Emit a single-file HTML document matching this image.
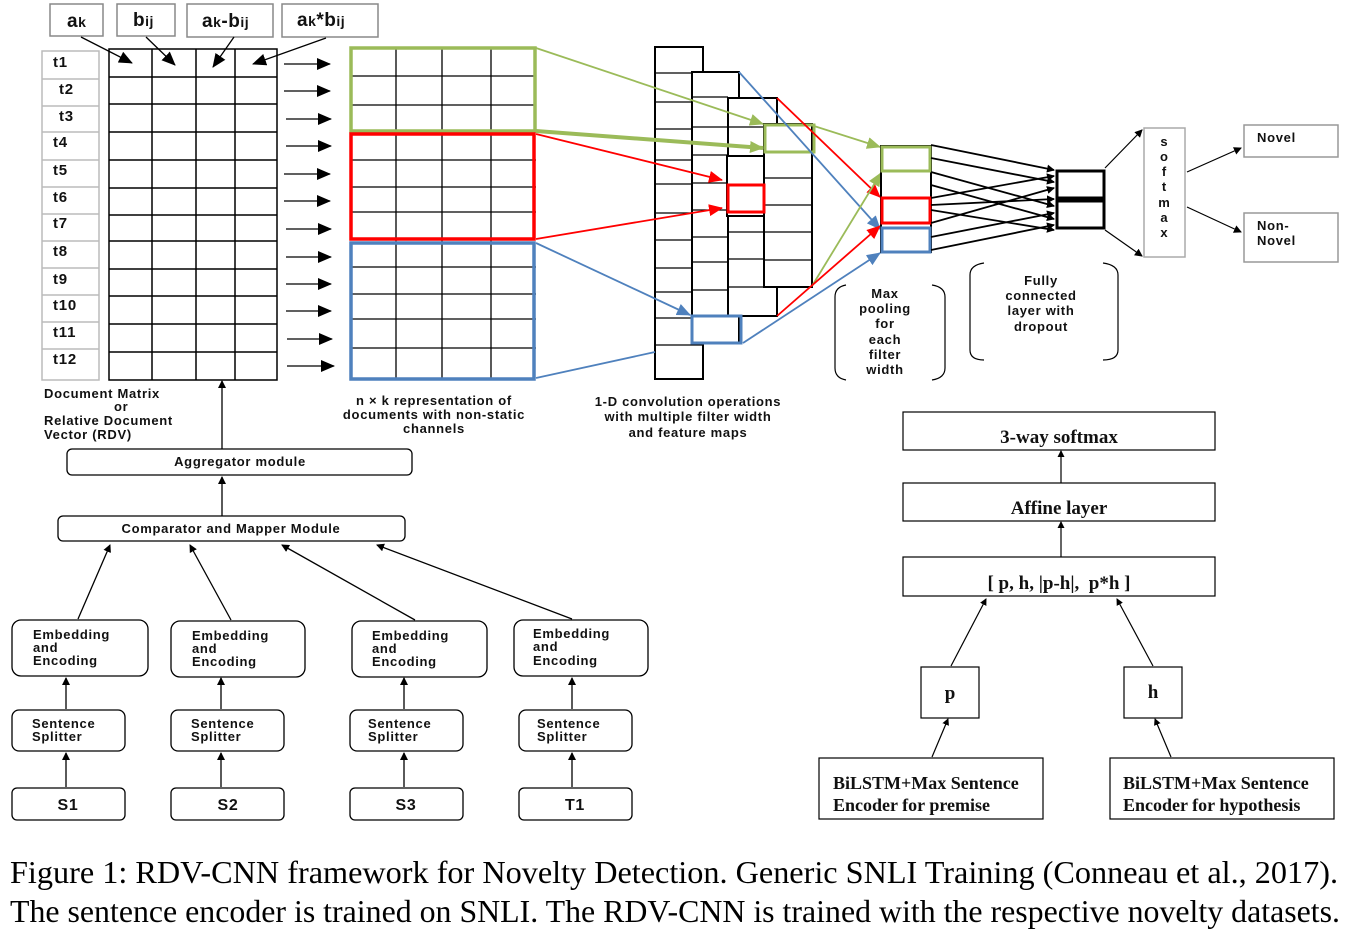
<!DOCTYPE html>
<html><head><meta charset="utf-8"><style>
html,body{margin:0;padding:0;background:#fff;}
svg{display:block;}
.s{font-family:"Liberation Sans",sans-serif;font-weight:bold;font-size:13px;letter-spacing:0.7px;fill:#111;}
.t{font-family:"Liberation Serif",serif;font-weight:bold;font-size:19px;fill:#111;}
</style></head><body>
<svg width="1346" height="939" viewBox="0 0 1346 939" xmlns="http://www.w3.org/2000/svg">
<defs>
<marker id="ab" markerWidth="8" markerHeight="8" refX="7" refY="4" orient="auto" markerUnits="userSpaceOnUse"><path d="M0,0 L8,4 L0,8 z" fill="#000"/></marker>
<marker id="ab2" markerWidth="14" markerHeight="12" refX="13" refY="6" orient="auto" markerUnits="userSpaceOnUse"><path d="M0,0 L14,6 L0,12 z" fill="#000"/></marker>
<marker id="ag" markerWidth="14" markerHeight="12" refX="13" refY="6" orient="auto" markerUnits="userSpaceOnUse"><path d="M0,0 L14,6 L0,12 z" fill="#9bbb59"/></marker>
<marker id="ar" markerWidth="14" markerHeight="12" refX="13" refY="6" orient="auto" markerUnits="userSpaceOnUse"><path d="M0,0 L14,6 L0,12 z" fill="#f00"/></marker>
<marker id="abl" markerWidth="14" markerHeight="12" refX="13" refY="6" orient="auto" markerUnits="userSpaceOnUse"><path d="M0,0 L14,6 L0,12 z" fill="#4f81bd"/></marker>
<marker id="as" markerWidth="7" markerHeight="7" refX="6" refY="3.5" orient="auto" markerUnits="userSpaceOnUse"><path d="M0,0 L7,3.5 L0,7 z" fill="#000"/></marker>
</defs>
<g fill="none" stroke="#888" stroke-width="1.5">
<rect x="50" y="4" width="53" height="32"/><rect x="117" y="4" width="58" height="32"/><rect x="187" y="4" width="86" height="33"/><rect x="282" y="4" width="96" height="33"/>
</g>
<g class="s" style="font-size:19px;letter-spacing:0.5px">
<text x="67" y="27">a<tspan style="font-size:14px">k</tspan></text>
<text x="133" y="26">b<tspan style="font-size:14px">ij</tspan></text>
<text x="202" y="27">a<tspan style="font-size:14px">k</tspan>-b<tspan style="font-size:14px">ij</tspan></text>
<text x="297" y="26">a<tspan style="font-size:14px">k</tspan>*b<tspan style="font-size:14px">ij</tspan></text>
</g>
<g stroke="#000" stroke-width="1.3" fill="none">
<line x1="81" y1="37" x2="132" y2="63" marker-end="url(#ab2)"/>
<line x1="146" y1="37" x2="175" y2="65" marker-end="url(#ab2)"/>
<line x1="234" y1="37" x2="213" y2="67" marker-end="url(#ab2)"/>
<line x1="326" y1="38" x2="253" y2="64" marker-end="url(#ab2)"/>
</g>
<g fill="none" stroke="#bbb" stroke-width="1.5">
<rect x="42" y="51" width="57" height="329"/>
<line x1="42" y1="79" x2="99" y2="79"/><line x1="42" y1="106" x2="99" y2="106"/><line x1="42" y1="132" x2="99" y2="132"/><line x1="42" y1="160" x2="99" y2="160"/><line x1="42" y1="187" x2="99" y2="187"/><line x1="42" y1="214" x2="99" y2="214"/><line x1="42" y1="241" x2="99" y2="241"/><line x1="42" y1="268" x2="99" y2="268"/><line x1="42" y1="295" x2="99" y2="295"/><line x1="42" y1="322" x2="99" y2="322"/><line x1="42" y1="349" x2="99" y2="349"/>
</g>
<g class="s" style="font-size:15px;letter-spacing:0.8px">
<text x="53" y="67">t1</text><text x="59" y="94">t2</text><text x="59" y="121">t3</text><text x="53" y="147">t4</text><text x="53" y="175">t5</text><text x="53" y="202">t6</text><text x="53" y="228">t7</text><text x="53" y="256">t8</text><text x="53" y="284">t9</text><text x="53" y="310">t10</text><text x="53" y="337">t11</text><text x="53" y="364">t12</text>
</g>
<g fill="none" stroke="#000" stroke-width="1.5">
<rect x="109" y="49" width="168" height="331"/>
<line x1="152" y1="49" x2="152" y2="380"/><line x1="196" y1="49" x2="196" y2="380"/><line x1="235" y1="49" x2="235" y2="380"/>
<line x1="109" y1="77" x2="277" y2="77"/><line x1="109" y1="104" x2="277" y2="104"/><line x1="109" y1="132" x2="277" y2="132"/><line x1="109" y1="160" x2="277" y2="160"/><line x1="109" y1="188" x2="277" y2="188"/><line x1="109" y1="215" x2="277" y2="215"/><line x1="109" y1="241" x2="277" y2="241"/><line x1="109" y1="269" x2="277" y2="269"/><line x1="109" y1="296" x2="277" y2="296"/><line x1="109" y1="324" x2="277" y2="324"/><line x1="109" y1="352" x2="277" y2="352"/>
</g>
<g stroke="#000" stroke-width="1.3">
<line x1="284" y1="64" x2="330" y2="64" marker-end="url(#ab2)"/>
<line x1="284" y1="91" x2="330" y2="91" marker-end="url(#ab2)"/>
<line x1="286" y1="119" x2="331" y2="119" marker-end="url(#ab2)"/>
<line x1="286" y1="146" x2="331" y2="146" marker-end="url(#ab2)"/>
<line x1="284" y1="174" x2="330" y2="174" marker-end="url(#ab2)"/>
<line x1="284" y1="201" x2="330" y2="201" marker-end="url(#ab2)"/>
<line x1="286" y1="229" x2="331" y2="229" marker-end="url(#ab2)"/>
<line x1="286" y1="257" x2="331" y2="257" marker-end="url(#ab2)"/>
<line x1="286" y1="284" x2="331" y2="284" marker-end="url(#ab2)"/>
<line x1="286" y1="311" x2="331" y2="311" marker-end="url(#ab2)"/>
<line x1="287" y1="339" x2="332" y2="339" marker-end="url(#ab2)"/>
<line x1="287" y1="366" x2="334" y2="366" marker-end="url(#ab2)"/>
</g>
<g fill="none" stroke="#000" stroke-width="1.3">
<line x1="396" y1="47" x2="396" y2="380"/><line x1="442" y1="47" x2="442" y2="380"/><line x1="491" y1="47" x2="491" y2="380"/>
<line x1="350" y1="76" x2="536" y2="76"/><line x1="350" y1="105" x2="536" y2="105"/>
<line x1="350" y1="160" x2="536" y2="160"/><line x1="350" y1="187" x2="536" y2="187"/><line x1="350" y1="212" x2="536" y2="212"/>
<line x1="350" y1="267" x2="536" y2="267"/><line x1="350" y1="294" x2="536" y2="294"/><line x1="350" y1="319" x2="536" y2="319"/><line x1="350" y1="348" x2="536" y2="348"/>
</g>
<rect x="351" y="48" width="184" height="83" fill="none" stroke="#9bbb59" stroke-width="3.5"/>
<rect x="351" y="134" width="183" height="105" fill="none" stroke="#f00" stroke-width="3.5"/>
<rect x="351" y="243" width="183" height="136" fill="none" stroke="#4f81bd" stroke-width="3.5"/>
<rect x="655" y="47" width="48" height="332" fill="#fff" stroke="#000" stroke-width="2"/>
<g stroke="#000" stroke-width="1.2">
<line x1="655" y1="73" x2="692" y2="73"/><line x1="655" y1="102" x2="692" y2="102"/><line x1="655" y1="129" x2="692" y2="129"/><line x1="655" y1="160" x2="692" y2="160"/><line x1="655" y1="184" x2="692" y2="184"/><line x1="655" y1="213" x2="692" y2="213"/><line x1="655" y1="240" x2="692" y2="240"/><line x1="655" y1="268" x2="692" y2="268"/><line x1="655" y1="292" x2="692" y2="292"/><line x1="655" y1="318" x2="692" y2="318"/><line x1="655" y1="345" x2="703" y2="345"/>
</g>
<rect x="692" y="72" width="47" height="271" fill="#fff" stroke="#000" stroke-width="2"/>
<g stroke="#000" stroke-width="1.2">
<line x1="692" y1="97" x2="728" y2="97"/><line x1="692" y1="127" x2="728" y2="127"/><line x1="692" y1="155" x2="728" y2="155"/><line x1="692" y1="183" x2="728" y2="183"/><line x1="692" y1="210" x2="728" y2="210"/><line x1="692" y1="237" x2="728" y2="237"/><line x1="692" y1="262" x2="728" y2="262"/><line x1="692" y1="290" x2="728" y2="290"/>
</g>
<rect x="728" y="98" width="49" height="218" fill="#fff" stroke="#000" stroke-width="2"/>
<g stroke="#000" stroke-width="1.2">
<line x1="728" y1="127" x2="764" y2="127"/><line x1="728" y1="232" x2="764" y2="232"/><line x1="728" y1="259" x2="764" y2="259"/><line x1="728" y1="287" x2="777" y2="287"/>
</g>
<rect x="727" y="156" width="37" height="60" fill="#fff" stroke="#000" stroke-width="2"/>
<rect x="764" y="124" width="48" height="163" fill="#fff" stroke="#000" stroke-width="2"/>
<g stroke="#000" stroke-width="1.2">
<line x1="764" y1="178" x2="812" y2="178"/><line x1="764" y1="205" x2="812" y2="205"/><line x1="764" y1="232" x2="812" y2="232"/><line x1="764" y1="260" x2="812" y2="260"/>
</g>
<rect x="728" y="185" width="36" height="27" fill="none" stroke="#f00" stroke-width="3"/>
<rect x="765" y="125" width="49" height="27" fill="none" stroke="#9bbb59" stroke-width="3"/>
<rect x="692" y="316" width="49" height="27" fill="none" stroke="#4f81bd" stroke-width="3"/>
<line x1="536" y1="48" x2="763" y2="124" stroke="#9bbb59" stroke-width="1.8" marker-end="url(#ag)"/>
<line x1="536" y1="131" x2="763" y2="148" stroke="#9bbb59" stroke-width="4" marker-end="url(#ag)"/>
<line x1="536" y1="134" x2="722" y2="180" stroke="#f00" stroke-width="1.8" marker-end="url(#ar)"/>
<line x1="536" y1="239" x2="722" y2="208" stroke="#f00" stroke-width="1.8" marker-end="url(#ar)"/>
<line x1="536" y1="243" x2="690" y2="315" stroke="#4f81bd" stroke-width="1.8" marker-end="url(#abl)"/>
<line x1="536" y1="378" x2="655" y2="352" stroke="#4f81bd" stroke-width="1.8"/>
<line x1="739" y1="72" x2="880" y2="229" stroke="#4f81bd" stroke-width="1.8" marker-end="url(#abl)"/>
<line x1="777" y1="98" x2="880" y2="197" stroke="#f00" stroke-width="1.8" marker-end="url(#ar)"/>
<line x1="814" y1="126" x2="880" y2="147" stroke="#9bbb59" stroke-width="1.8" marker-end="url(#ag)"/>
<line x1="812" y1="286" x2="881" y2="173" stroke="#9bbb59" stroke-width="1.8" marker-end="url(#ag)"/>
<line x1="777" y1="316" x2="880" y2="226" stroke="#f00" stroke-width="1.8" marker-end="url(#ar)"/>
<line x1="743" y1="343" x2="880" y2="253" stroke="#4f81bd" stroke-width="1.8" marker-end="url(#abl)"/>
<rect x="881" y="146" width="50" height="106" fill="none" stroke="#000" stroke-width="2"/>
<rect x="882" y="147" width="48" height="24" fill="#fff" stroke="#9bbb59" stroke-width="3"/>
<rect x="882" y="198" width="48" height="25" fill="#fff" stroke="#f00" stroke-width="3"/>
<rect x="882" y="228" width="48" height="24" fill="#fff" stroke="#4f81bd" stroke-width="3"/>
<g stroke="#000" stroke-width="1.8">
<line x1="931" y1="145" x2="1054" y2="170" marker-end="url(#ab)"/>
<line x1="931" y1="158" x2="1054" y2="182" marker-end="url(#ab)"/>
<line x1="931" y1="172" x2="1054" y2="206" marker-end="url(#ab)"/>
<line x1="931" y1="185" x2="1054" y2="219" marker-end="url(#ab)"/>
<line x1="931" y1="198" x2="1054" y2="176" marker-end="url(#ab)"/>
<line x1="931" y1="210" x2="1054" y2="230" marker-end="url(#ab)"/>
<line x1="931" y1="223" x2="1054" y2="188" marker-end="url(#ab)"/>
<line x1="931" y1="237" x2="1054" y2="213" marker-end="url(#ab)"/>
<line x1="931" y1="250" x2="1054" y2="225" marker-end="url(#ab)"/>
<line x1="931" y1="205" x2="1054" y2="199" marker-end="url(#ab)"/>
</g>
<rect x="1057" y="171" width="47" height="27" fill="#fff" stroke="#000" stroke-width="3"/>
<rect x="1057" y="201" width="47" height="27" fill="#fff" stroke="#000" stroke-width="3"/>
<g stroke="#000" stroke-width="1.2">
<line x1="1105" y1="168" x2="1142" y2="130" marker-end="url(#ab)"/>
<line x1="1105" y1="230" x2="1142" y2="256" marker-end="url(#ab)"/>
<line x1="1187" y1="172" x2="1241" y2="148" marker-end="url(#ab)"/>
<line x1="1187" y1="207" x2="1241" y2="232" marker-end="url(#ab)"/>
</g>
<rect x="1144" y="128" width="41" height="129" fill="none" stroke="#aaa" stroke-width="1.5"/>
<g class="s" text-anchor="middle" style="letter-spacing:0">
<text x="1164" y="146">s</text><text x="1164" y="161">o</text><text x="1164" y="176">f</text><text x="1164" y="191">t</text><text x="1164" y="207">m</text><text x="1164" y="222">a</text><text x="1164" y="237">x</text>
</g>
<rect x="1244" y="125" width="94" height="32" fill="none" stroke="#999" stroke-width="1.5"/>
<rect x="1244" y="213" width="94" height="49" fill="none" stroke="#999" stroke-width="1.5"/>
<text class="s" x="1257" y="142">Novel</text>
<text class="s" x="1257" y="230">Non-</text><text class="s" x="1257" y="245">Novel</text>
<g fill="none" stroke="#000" stroke-width="1.2">
<path d="M846,285 Q835,287 835,297 L835,368 Q835,378 846,380"/>
<path d="M932,285 Q945,287 945,297 L945,368 Q945,378 932,380"/>
<path d="M984,263 Q970,265 970,275 L970,350 Q970,360 984,360"/>
<path d="M1103,263 Q1118,265 1118,275 L1118,350 Q1118,360 1103,360"/>
</g>
<g class="s" text-anchor="middle">
<text x="885" y="298">Max</text><text x="885" y="313">pooling</text><text x="885" y="328">for</text><text x="885" y="344">each</text><text x="885" y="359">filter</text><text x="885" y="374">width</text>
<text x="1041" y="285">Fully</text><text x="1041" y="300">connected</text><text x="1041" y="315">layer with</text><text x="1041" y="331">dropout</text>
<text x="688" y="406">1-D convolution operations</text><text x="688" y="421">with multiple filter width</text><text x="688" y="437">and feature maps</text>
<text x="434" y="405">n × k representation of</text><text x="434" y="419">documents with non-static</text><text x="434" y="433">channels</text>
</g>
<g class="s">
<text x="44" y="398">Document Matrix</text><text x="114" y="411">or</text><text x="44" y="425">Relative Document</text><text x="44" y="439">Vector (RDV)</text>
</g>
<g fill="none" stroke="#000" stroke-width="1.3">
<line x1="222" y1="449" x2="222" y2="381" marker-end="url(#ab)"/>
<line x1="222" y1="516" x2="222" y2="477" marker-end="url(#ab)"/>
<rect x="67" y="449" width="345" height="26" rx="5"/>
<rect x="58" y="516" width="347" height="25" rx="5"/>
<rect x="12" y="620" width="136" height="56" rx="9"/>
<rect x="171" y="621" width="134" height="56" rx="9"/>
<rect x="352" y="621" width="135" height="56" rx="9"/>
<rect x="514" y="620" width="134" height="56" rx="9"/>
<rect x="12" y="710" width="113" height="41" rx="7"/>
<rect x="171" y="710" width="113" height="41" rx="7"/>
<rect x="350" y="710" width="113" height="41" rx="7"/>
<rect x="519" y="710" width="113" height="41" rx="7"/>
<rect x="12" y="788" width="113" height="32" rx="5"/>
<rect x="171" y="788" width="113" height="32" rx="5"/>
<rect x="350" y="788" width="113" height="32" rx="5"/>
<rect x="519" y="788" width="113" height="32" rx="5"/>
<line x1="78" y1="619" x2="110" y2="545" marker-end="url(#ab)"/>
<line x1="231" y1="620" x2="190" y2="545" marker-end="url(#ab)"/>
<line x1="415" y1="620" x2="282" y2="545" marker-end="url(#ab)"/>
<line x1="572" y1="619" x2="377" y2="545" marker-end="url(#ab)"/>
<line x1="66" y1="709" x2="66" y2="678" marker-end="url(#ab)"/>
<line x1="221" y1="709" x2="221" y2="678" marker-end="url(#ab)"/>
<line x1="404" y1="709" x2="404" y2="678" marker-end="url(#ab)"/>
<line x1="572" y1="709" x2="572" y2="678" marker-end="url(#ab)"/>
<line x1="66" y1="787" x2="66" y2="753" marker-end="url(#ab)"/>
<line x1="221" y1="787" x2="221" y2="753" marker-end="url(#ab)"/>
<line x1="404" y1="787" x2="404" y2="753" marker-end="url(#ab)"/>
<line x1="572" y1="787" x2="572" y2="753" marker-end="url(#ab)"/>
</g>
<g class="s">
<text x="240" y="466" text-anchor="middle">Aggregator module</text>
<text x="231" y="533" text-anchor="middle">Comparator and Mapper Module</text>
<text x="33" y="639">Embedding</text><text x="33" y="652">and</text><text x="33" y="665">Encoding</text>
<text x="192" y="640">Embedding</text><text x="192" y="653">and</text><text x="192" y="666">Encoding</text>
<text x="372" y="640">Embedding</text><text x="372" y="653">and</text><text x="372" y="666">Encoding</text>
<text x="533" y="638">Embedding</text><text x="533" y="651">and</text><text x="533" y="665">Encoding</text>
<text x="32" y="728">Sentence</text><text x="32" y="741">Splitter</text>
<text x="191" y="728">Sentence</text><text x="191" y="741">Splitter</text>
<text x="368" y="728">Sentence</text><text x="368" y="741">Splitter</text>
<text x="537" y="728">Sentence</text><text x="537" y="741">Splitter</text>
</g>
<g class="s" style="font-size:16px" text-anchor="middle">
<text x="68" y="810">S1</text><text x="228" y="810">S2</text><text x="406" y="810">S3</text><text x="575" y="810">T1</text>
</g>
<g fill="none" stroke="#000" stroke-width="1.2">
<rect x="903" y="412" width="312" height="38"/>
<rect x="903" y="483" width="312" height="38"/>
<rect x="903" y="557" width="312" height="39"/>
<rect x="921" y="667" width="58" height="51"/>
<rect x="1124" y="667" width="58" height="51"/>
<rect x="819" y="758" width="224" height="61"/>
<rect x="1110" y="758" width="224" height="61"/>
<line x1="1061" y1="483" x2="1061" y2="451" marker-end="url(#as)"/>
<line x1="1061" y1="557" x2="1061" y2="522" marker-end="url(#as)"/>
<line x1="951" y1="666" x2="986" y2="599" marker-end="url(#as)"/>
<line x1="1153" y1="666" x2="1117" y2="599" marker-end="url(#as)"/>
<line x1="932" y1="757" x2="948" y2="719" marker-end="url(#as)"/>
<line x1="1171" y1="757" x2="1155" y2="719" marker-end="url(#as)"/>
</g>
<g class="t" text-anchor="middle">
<text x="1059" y="443">3-way softmax</text>
<text x="1059" y="514">Affine layer</text>
<text x="1059" y="589" xml:space="preserve">[ p, h, |p-h|,  p*h ]</text>
<text x="950" y="699">p</text>
<text x="1153" y="698">h</text>
</g>
<g class="t" style="font-size:18px">
<text x="833" y="789">BiLSTM+Max Sentence</text><text x="833" y="811">Encoder for premise</text>
<text x="1123" y="789">BiLSTM+Max Sentence</text><text x="1123" y="811">Encoder for hypothesis</text>
</g>
<g font-family="'Liberation Serif',serif" font-size="32" fill="#000">
<text x="10" y="883" textLength="1328" lengthAdjust="spacingAndGlyphs">Figure 1: RDV-CNN framework for Novelty Detection. Generic SNLI Training (Conneau et al., 2017).</text>
<text x="10" y="922" textLength="1330" lengthAdjust="spacingAndGlyphs">The sentence encoder is trained on SNLI. The RDV-CNN is trained with the respective novelty datasets.</text>
</g>
</svg>
</body></html>
